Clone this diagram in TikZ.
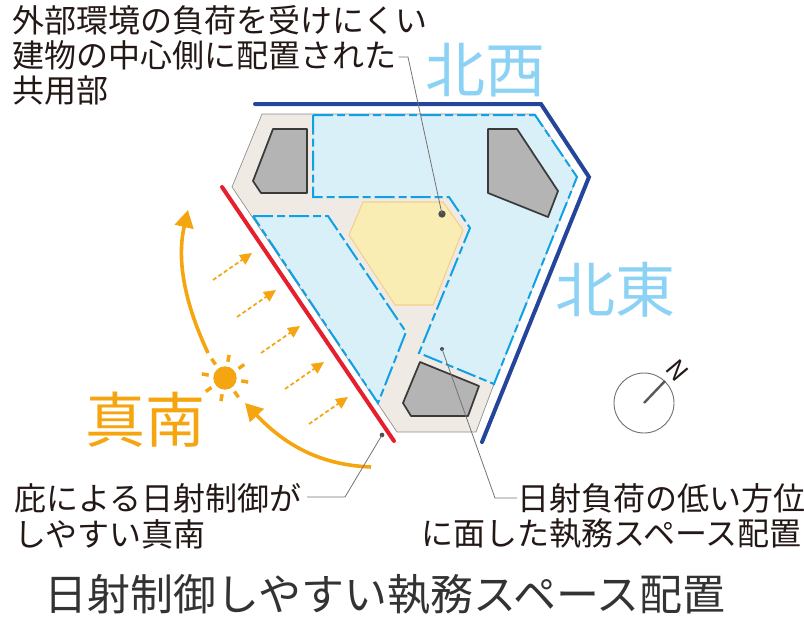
\documentclass[tikz,border=0pt]{standalone}
\usepackage{fontspec}
\setmainfont{Noto Sans CJK JP}
\usetikzlibrary{arrows.meta}
\definecolor{skyt}{HTML}{8CD2F5}
\definecolor{orng}{HTML}{F5A510}
\definecolor{navy}{HTML}{24459A}
\definecolor{redl}{HTML}{E61F2D}
\definecolor{beig}{HTML}{EFEBE4}
\definecolor{pale}{HTML}{DAF0F8}
\definecolor{dash}{HTML}{0FA0E6}
\definecolor{yelf}{HTML}{F9EDB3}
\definecolor{yell}{HTML}{F5CF8C}
\definecolor{grf}{HTML}{B3B4B3}
\definecolor{grl}{HTML}{3A3A3A}
\definecolor{txt}{HTML}{231815}
\tikzset{x=0.75pt,y=-0.75pt,
 lbl/.style={inner sep=0pt,anchor=west,font=\fontsize{24}{24}\selectfont,text=txt},
 big/.style={inner sep=0pt,font=\fontsize{45}{45}\selectfont},
 zone/.style={fill=pale,draw=dash,line width=1.5pt,dash pattern=on 15pt off 3pt on 6pt off 3pt},
 core/.style={fill=grf,draw=grl,line width=1.3pt,line join=round},
 lead/.style={draw=black!55,line width=0.6pt},
 dotm/.style={circle,fill=black!70,inner sep=0pt},
 wall/.style={line width=3pt,line cap=round,line join=miter},
 sunarc/.style={draw=orng,line width=2.7pt,-{Triangle[length=13pt,width=14pt]}},
 raysh/.style={draw=orng,line width=1.3pt,dash pattern=on 3pt off 2pt,-{Triangle[length=9pt,width=8.5pt]}},
 ray/.style={draw=orng,line width=2.6pt}}
\begin{document}
\begin{tikzpicture}
\useasboundingbox (0,0) rectangle (804,618);
% floor
\fill[beig,draw=black!45,line width=0.5pt] (262,114)--(535,114)--(577,177)--(494,384)--(476,432)--(397,432)--(232,187)--cycle;
\path[zone] (313,115)--(535,115)--(577,177)--(494,384)--(419,353)--(470,228)--(449,197)--(313,197)--cycle;
\path[zone] (253,216)--(328,216)--(406,332)--(378,403)--cycle;
\path[fill=yelf,draw=yell,line width=0.8pt] (363,202)--(443,202)--(463,230)--(433,305)--(395,305)--(349,235)--cycle;
\path[core] (273,129)--(307,129)--(307,193)--(261,193)--(253,181)--cycle;
\path[core] (488,129)--(517,129)--(558,191)--(548,217)--(488,193)--cycle;
\path[core] (420,362)--(479,386)--(468,416)--(411,416)--(403,403)--cycle;
% walls
\draw[wall,navy] (255,104)--(541,104)--(589,177)--(482,442);
\draw[wall,redl] (222,187)--(394,441);
% sun
\node[circle,fill=orng,minimum size=17.5pt,inner sep=0pt] (sun) at (225,378) {};
\foreach \a in {10,55,100,145,190,235,280,325}
  \draw[ray] (sun.center) ++(\a:16.5) -- ++(\a:7);
\coordinate (a1s) at (208,353); \coordinate (a1e) at (188,210);
\coordinate (a2s) at (371,467); \coordinate (a2e) at (245,403);
\draw[sunarc] (a1s) .. controls (186,306) and (176,262) .. (a1e);
\draw[sunarc] (a2s) .. controls (320,465) and (285,445) .. (a2e);
\foreach \x/\y in {213/280,237/317,261/353,285/389,309/424}
  \draw[raysh] (\x,\y) -- ++(39,-27);
% texts
\node[big,text=skyt] (nw) at (485,70) {北西};
\node[big,text=skyt] (ne) at (615,290) {北東};
\node[big,text=orng] (s) at (145,420) {真南};
\node[lbl] (t1) at (12,20) {外部環境の負荷を受けにくい};
\node[lbl] (t2) at (12,55) {建物の中心側に配置された};
\node[lbl] (t3) at (12,90) {共用部};
\node[lbl] (t4) at (14,498) {庇による日射制御が};
\node[lbl] (t5) at (14,534) {しやすい真南};
\node[lbl] (t6) at (517,498) {日射負荷の低い方位};
\node[lbl] (t7) at (421,534) {に面した執務スペース配置};
\node[inner sep=0pt,font=\fontsize{32.2}{32.2}\selectfont,text=black!80] (title) at (385,595) {日射制御しやすい執務スペース配置};
% leaders
\node[dotm,minimum size=5.5pt] (d1) at (442,214) {};
\node[dotm,minimum size=3pt] (d2) at (442,349) {};
\node[dotm,minimum size=3.5pt] (d3) at (382,435) {};
\coordinate (k1) at (408,57); \coordinate (k2) at (495,498); \coordinate (k3) at (345,497);
\draw[lead] (t2.east) ++(2,2) -- (k1) -- (d1.center);
\draw[lead] (d2.center) -- (k2) -- (t6.west);
\draw[lead] (d3.center) -- (k3) -- ++(-38,0);
% compass
\node[circle,draw=black!55,line width=0.7pt,minimum size=45pt,inner sep=0pt] (cmp) at (644,403) {};
\coordinate (ntip) at (665,381);
\draw[line width=1.8pt,black!65] (cmp.center)--(ntip);
\node[inner sep=0pt,rotate=-50,font=\fontsize{19}{19}\selectfont,text=txt] (nl) at (677,371) {N};
\end{tikzpicture}
\end{document}
